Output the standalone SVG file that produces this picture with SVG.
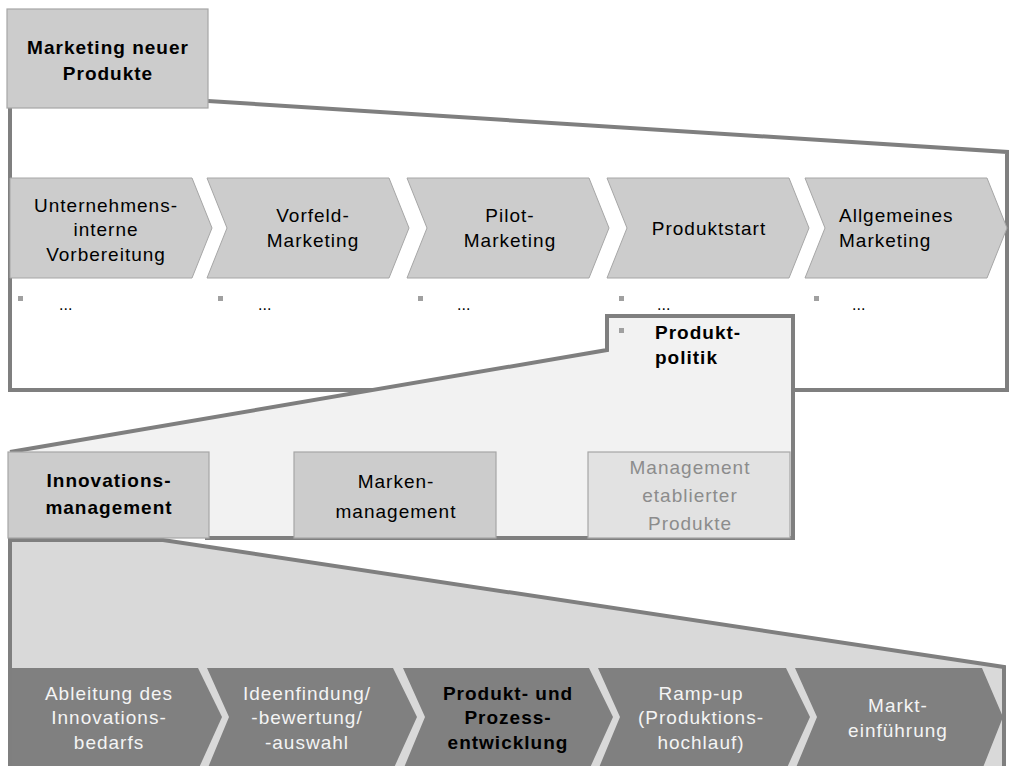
<svg xmlns="http://www.w3.org/2000/svg" width="1013" height="766" viewBox="0 0 1013 766">
<style>
text{font-family:"Liberation Sans",Arial,sans-serif;font-size:19px;letter-spacing:1px;text-anchor:middle;fill:#000}
.b{font-weight:bold}
.w{fill:#f4f4f4}
.g{fill:#8c8c8c}
.l{text-anchor:start}
.dots{font-size:16px;letter-spacing:0}
.frame{fill:none;stroke:#7f7f7f;stroke-width:4;stroke-linejoin:miter}
.box{fill:#cccccc;stroke:#a6a6a6;stroke-width:1.2}
.chev{fill:#cccccc;stroke:#a6a6a6;stroke-width:1}
.dchev{fill:#808080;stroke:none}
.bul{fill:#a0a0a0}
</style>
<rect width="1013" height="766" fill="#ffffff"/>

<g id="connectors">
  <polyline class="frame" points="10,108 10,390 1007,390 1007,152 208,101"/>
  <polygon points="10,540 163,540 1004,667 1004,770 10,770" fill="#d9d9d9"/>
  <polyline class="frame" points="10,770 10,540 163,540 1004,667 1004,770"/>
  <polygon points="10,452 607,350 607,316 793,316 793,538 10,538" fill="#f2f2f2"/>
  <polyline class="frame" points="10,452 607,350 607,316 793,316 793,538 205,538"/>
</g>

<g id="marketing-neuer-produkte">
  <rect class="box" x="7" y="9" width="201" height="99"/>
  <text class="b" x="108" y="54">Marketing neuer</text>
  <text class="b" x="108" y="80">Produkte</text>
</g>

<g id="phase1">
  <polygon class="chev" points="10,178 192,178 212,228 192,278 10,278"/>
  <text x="106" y="212">Unternehmens-</text>
  <text x="106" y="236">interne</text>
  <text x="106" y="261">Vorbereitung</text>
  <rect class="bul" x="18" y="296" width="5" height="5"/>
  <text class="l dots" x="59" y="310">...</text>
</g>
<g id="phase2">
  <polygon class="chev" points="207,178 389,178 409,228 389,278 207,278 227,228"/>
  <text x="313" y="222">Vorfeld-</text>
  <text x="313" y="247">Marketing</text>
  <rect class="bul" x="218" y="296" width="5" height="5"/>
  <text class="l dots" x="258" y="310">...</text>
</g>
<g id="phase3">
  <polygon class="chev" points="407,178 589,178 609,228 589,278 407,278 427,228"/>
  <text x="510" y="222">Pilot-</text>
  <text x="510" y="247">Marketing</text>
  <rect class="bul" x="418" y="296" width="5" height="5"/>
  <text class="l dots" x="457" y="310">...</text>
</g>
<g id="phase4">
  <polygon class="chev" points="607,178 789,178 809,228 789,278 607,278 627,228"/>
  <text x="709" y="235">Produktstart</text>
  <rect class="bul" x="619" y="296" width="5" height="5"/>
  <text class="l dots" x="657" y="310">...</text>
</g>
<g id="phase5">
  <polygon class="chev" points="805,178 987,178 1007,228 987,278 805,278 825,228"/>
  <text class="l" x="839" y="222">Allgemeines</text>
  <text class="l" x="839" y="247">Marketing</text>
  <rect class="bul" x="814" y="296" width="5" height="5"/>
  <text class="l dots" x="852" y="310">...</text>
</g>

<g id="produktpolitik">
  <rect class="bul" x="619" y="328" width="5" height="5"/>
  <text class="b l" x="655" y="339">Produkt-</text>
  <text class="b l" x="655" y="364">politik</text>
</g>

<g id="innovationsmanagement">
  <rect class="box" x="8" y="452" width="201" height="86"/>
  <text class="b" x="109" y="487">Innovations-</text>
  <text class="b" x="109" y="514">management</text>
</g>
<g id="markenmanagement">
  <rect class="box" x="294" y="452" width="202" height="86"/>
  <text x="396" y="488">Marken-</text>
  <text x="396" y="518">management</text>
</g>
<g id="management-etablierter-produkte">
  <rect x="588" y="452" width="202" height="86" fill="#e2e2e2" stroke="#a6a6a6" stroke-width="1.2"/>
  <text class="g" x="690" y="474">Management</text>
  <text class="g" x="690" y="502">etablierter</text>
  <text class="g" x="690" y="530">Produkte</text>
</g>

<g id="step1">
  <polygon class="dchev" points="12,668 198,668 222,717 198,770 12,770"/>
  <text class="w" x="109" y="700">Ableitung des</text>
  <text class="w" x="109" y="724">Innovations-</text>
  <text class="w" x="109" y="749">bedarfs</text>
</g>
<g id="step2">
  <polygon class="dchev" points="207,668 393,668 417,717 393,770 207,770 229,717"/>
  <text class="w" x="307" y="700">Ideenfindung/</text>
  <text class="w" x="307" y="724">-bewertung/</text>
  <text class="w" x="307" y="749">-auswahl</text>
</g>
<g id="step3">
  <polygon class="dchev" points="403,668 589,668 613,717 589,770 403,770 425,717"/>
  <text class="b" x="508" y="700">Produkt- und</text>
  <text class="b" x="508" y="724">Prozess-</text>
  <text class="b" x="508" y="749">entwicklung</text>
</g>
<g id="step4">
  <polygon class="dchev" points="598,668 786,668 810,717 786,770 598,770 620,717"/>
  <text class="w" x="701" y="700">Ramp-up</text>
  <text class="w" x="701" y="724">(Produktions-</text>
  <text class="w" x="701" y="749">hochlauf)</text>
</g>
<g id="step5">
  <polygon class="dchev" points="795,668 982,668 1003,717 982,770 795,770 817,717"/>
  <text class="w" x="898" y="712">Markt-</text>
  <text class="w" x="898" y="737">einführung</text>
</g>
</svg>
